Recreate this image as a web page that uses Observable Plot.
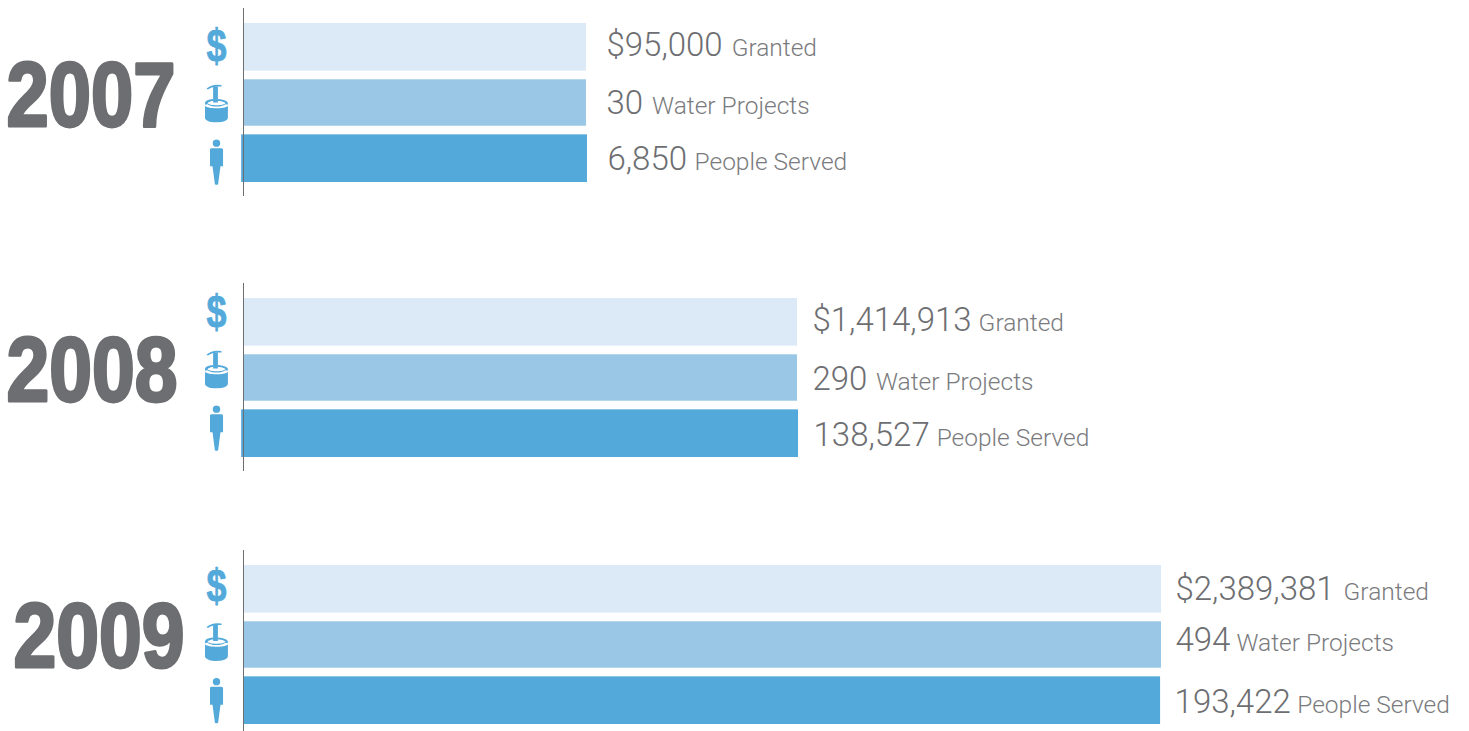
<!DOCTYPE html>
<html><head><meta charset="utf-8">
<script src="https://cdn.jsdelivr.net/npm/d3@7"></script>
<script src="https://cdn.jsdelivr.net/npm/@observablehq/plot@0.6"></script>
<style>
html,body{margin:0;padding:0;background:#fff;overflow:hidden}
svg{display:block}
</style></head><body><div id="chart"></div>
<script>
const years = ["2007","2008","2009"];
const metrics = ["Granted","Water Projects","People Served"];
const granted = [95000,1414913,2389381];
const waterProjects = [30,290,494];
const peopleServed = [6850,138527,193422];
// Bar lengths are illustrative in the source: read as % of the longest bar
const grantedBar = [37.36,60.35,100];
const waterBar = [37.36,60.35,100];
const peopleBar = [37.47,60.46,99.9];
const peopleBarStart = [-0.2,-0.2,0];

const colors = ["#dce9f6","#9ac7e6","#53a9da"];
const grey = "#6d6e71", blue = "#53a9da";

const personIcon = "data:image/svg+xml," + encodeURIComponent(`<svg xmlns="http://www.w3.org/2000/svg" viewBox="0 0 14 46"><g fill="${blue}"><circle cx="7" cy="4" r="3.7"/><path d="M2 9H12Q13.6 9 13.6 11V27H11L8.6 45Q7 46.4 5.4 45L3 27H.4V11Q.4 9 2 9Z"/></g></svg>`);
const pumpIcon = "data:image/svg+xml," + encodeURIComponent(`<svg xmlns="http://www.w3.org/2000/svg" viewBox="0 0 24 39"><g fill="${blue}"><path d="M2 5Q8 0 17 1.6V3Q8 2.4 3.4 6Z"/><rect x="8.6" y="3" width="4.8" height="16"/><path d="M8.6 15.6C3 16 .4 17.6.4 20C.4 22 2 21 3 20.4C3 18.6 6 17.6 8.6 17.4ZM13.4 15.6C19 16 23.4 17.6 23.4 20C23.4 22 22 21 21 20.4C21 18.6 18 17.6 13.4 17.4Z"/><path d="M.4 22.5C4 25.6 19.6 25.6 23.4 22.5V34C23.4 40.6 .4 40.6 .4 34Z"/><path d="M2.5 19.5C5 22.5 19 22.5 21.5 19.5C22 21 18 23 12 23C6 23 2 21 2.5 19.5Z"/></g></svg>`);
const icons = [null,pumpIcon,personIcon];
const iconSizes = [null,[24,39],[14,46]];

const heights = [275,267,189];
const bottoms = [93,85,7];
const labelStart = [20,15,14];
const labelGap = [[9,9,7.5],[7,8.5,7],[9,6,6.5]];
const textShift = [[-2,0.5,1],[-2,1.5,2],[0.5,-4.5,1.5]];
const iconShift = [0,-9,-3.5];
const iconMetricShift = [-1,0,3.5];
const dollarShift = [0.5,1,2];
const barInset = [0,0.6,0];
const yearX = [90.5,91.5,98.5];
const yearWidth = [169,171,171];
const yearLift = [6,6,7];

years.forEach((year,i)=>{
  const values = [
    "$"+d3.format(",")(granted[i]),
    String(waterProjects[i]),
    d3.format(",")(peopleServed[i])
  ];
  const lengths = [grantedBar[i],waterBar[i],peopleBar[i]];
  const starts = [0,0,peopleBarStart[i]];
  const rows = metrics.map((m,j)=>({metric:m,value:values[j],start:starts[j],length:lengths[j],color:colors[j],icon:icons[j]}));
  const svg = Plot.plot({
    width:1469,height:heights[i],
    marginLeft:243,marginRight:308,marginTop:23,marginBottom:bottoms[i],
    style:{background:"transparent",overflow:"visible"},
    x:{domain:[0,100],axis:null},
    y:{domain:metrics,axis:null,paddingInner:0.144,paddingOuter:0,round:false},
    marks:[
      ...rows.map((r,j)=>Plot.barX([r],{x1:"start",x2:"length",y:"metric",fill:"color",insetTop:barInset[j],insetBottom:barInset[j]})),
      Plot.ruleX([0],{stroke:grey,strokeWidth:1,insetTop:-15,insetBottom:-Math.min(14,bottoms[i])}),
      ...rows.map((r,j)=>Plot.text([r],{x:"length",y:"metric",dx:labelStart[i],dy:textShift[i][j],text:d=>d.value+" "+d.metric,textAnchor:"start",className:"lbl lbl"+j,fill:grey,fontFamily:"Roboto",fontWeight:300,fontSize:33,lineAnchor:"middle"})),
      Plot.text([rows[0]],{y:"metric",frameAnchor:"left",dx:-27,dy:iconShift[i]+iconMetricShift[0]+dollarShift[i],text:()=>"$",textAnchor:"middle",className:"dollar",fill:blue,fontFamily:"Liberation Sans",fontWeight:700,fontSize:46,stroke:blue,strokeWidth:0.8}),
      ...[1,2].map(j=>Plot.image([rows[j]],{y:"metric",frameAnchor:"left",dx:-27,dy:iconShift[i]+iconMetricShift[j],src:"icon",width:iconSizes[j][0],height:iconSizes[j][1]})),
      Plot.text([year],{y:()=>metrics[1],frameAnchor:"left",dx:yearX[i]-243,dy:-yearLift[i],text:d=>d,textAnchor:"middle",className:"year",fill:grey,stroke:grey,strokeWidth:3,fontFamily:"Liberation Sans",fontWeight:700,fontSize:90})
    ]
  });
  const root = d3.select(svg);
  [0,1,2].forEach(j=>root.selectAll(".lbl"+j+" text").each(function(){
    const full = this.textContent, k = full.indexOf(" ");
    const sel = d3.select(this).text(null);
    sel.append("tspan").text(full.slice(0,k));
    sel.append("tspan").attr("font-size",24.5).attr("fill","#7a7b7e").attr("dx",labelGap[i][j]).text(full.slice(k+1));
  }));
  root.selectAll(".year text").attr("textLength",yearWidth[i]).attr("lengthAdjust","spacingAndGlyphs");
  root.selectAll(".dollar text").attr("textLength",20).attr("lengthAdjust","spacingAndGlyphs");
  document.getElementById("chart").appendChild(svg);
});
</script></body></html>
